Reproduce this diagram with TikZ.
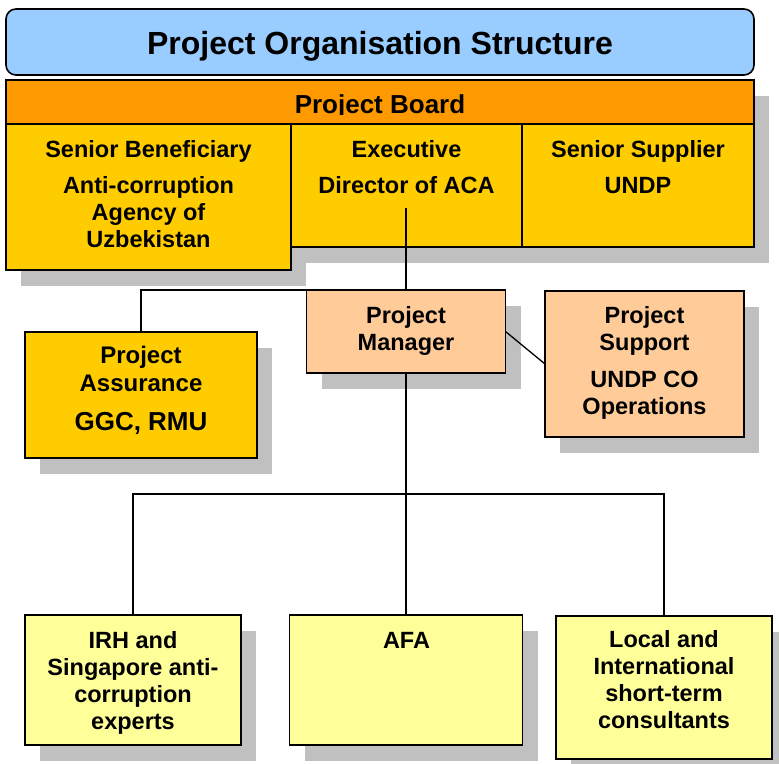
\documentclass[tikz,border=0pt]{standalone}
\usepackage{fontspec}
\setmainfont{Liberation Sans}
\usetikzlibrary{shadows}
\definecolor{titleblue}{HTML}{99CCFF}
\definecolor{boardorange}{HTML}{FF9900}
\definecolor{boardgold}{HTML}{FFCC00}
\definecolor{peach}{HTML}{FFCC99}
\definecolor{paleyellow}{HTML}{FFFF99}
\definecolor{shadowgray}{HTML}{C0C0C0}
% centred lines whose baseline is the first line
\newcommand\boxlines[1]{\begin{tabular}[t]{@{}c@{}}#1\end{tabular}}
\begin{document}
\begin{tikzpicture}[x=1pt,y=-1pt,
  box/.style={draw=black, line width=1.6pt, inner sep=0pt, outer sep=0pt},
  shade/.style={drop shadow={opacity=1, fill=shadowgray, shadow xshift=15pt, shadow yshift=-16pt}},
  lbl/.style={anchor=base, inner sep=0pt, font=\bfseries\fontsize{23.5}{27}\selectfont},
  link/.style={draw=black, line width=1.3pt}]
\useasboundingbox (0,0) rectangle (779,763);

% title banner
\node[box, fill=titleblue, rounded corners=10pt, minimum width=748pt, minimum height=66pt] (title) at (380,42) {};
\node[lbl, font=\bfseries\fontsize{32}{36}\selectfont] (titletext) at (380,54) {Project Organisation Structure};

% project board
\node[box, fill=boardorange, shade, minimum width=748pt, minimum height=44pt] (board) at (380,102) {};
\begin{scope}
  \clip (6,80) rectangle (754,114.5);
  \node[lbl, font=\bfseries\fontsize{26}{28}\selectfont] (boardtext) at (380,113.5) {Project Board};
\end{scope}
\node[box, fill=boardgold, shade, minimum width=285pt, minimum height=146pt] (benef) at (148.5,197) {};
\node[box, fill=boardgold, shade, minimum width=231pt, minimum height=123pt] (exec) at (406.5,185.5) {};
\node[box, fill=boardgold, shade, minimum width=232pt, minimum height=123pt] (supp) at (638,185.5) {};
\node[lbl] (benefText) at (148.5,157) {\boxlines{Senior Beneficiary\\[9pt] Anti-corruption\\ Agency of\\ Uzbekistan}};
\node[lbl] (execText) at (406.5,157) {\boxlines{Executive\\[9pt] Director of ACA}};
\node[lbl] (suppText) at (638,157) {\boxlines{Senior Supplier\\[9pt] UNDP}};

% management level
\node[box, fill=peach, shade, minimum width=199pt, minimum height=83pt] (pm) at (406,331.5) {};
\node[box, fill=peach, shade, minimum width=199pt, minimum height=146pt] (support) at (644.5,364) {};
\node[box, fill=boardgold, shade, minimum width=232pt, minimum height=126pt] (assur) at (141,395) {};
\node[lbl] (pmText) at (406,323) {\boxlines{Project\\ Manager}};
\node[lbl] (supportText) at (644.5,323) {\boxlines{Project\\ Support\\[10pt] UNDP CO\\ Operations}};
\node[lbl, font=\bfseries\fontsize{24}{28.5}\selectfont] (assurText) at (141,363) {\boxlines{Project\\ Assurance\\[10.5pt] {\fontsize{26}{28.5}\selectfont GGC, RMU}}};

% team level
\node[box, fill=paleyellow, shade, minimum width=216pt, minimum height=130pt] (irh) at (133,680) {};
\node[box, fill=paleyellow, shade, minimum width=233pt, minimum height=130pt] (afa) at (406,680) {};
\node[box, fill=paleyellow, shade, minimum width=216pt, minimum height=143pt] (local) at (664,687.5) {};
\node[lbl] (irhText) at (133,648) {\boxlines{IRH and\\ Singapore anti-\\ corruption\\ experts}};
\node[lbl] (afaText) at (406.5,648) {AFA};
\node[lbl] (localText) at (664,647) {\boxlines{Local and\\ International\\ short-term\\ consultants}};

% reporting lines
\coordinate (execfoot) at (406,208);
\coordinate (bus) at (406,494);
\draw[link] (execfoot) -- (pm.north);
\draw[link] (assur.north) |- (pm.north);
\draw[link] (pm.east) -- (support.west);
\draw[link] (pm.south) -- (bus);
\draw[link] (irh.north) -- (irh.north |- bus) -- (local.north |- bus) -- (local.north);
\draw[link] (bus) -- (afa.north);
\end{tikzpicture}
\end{document}
